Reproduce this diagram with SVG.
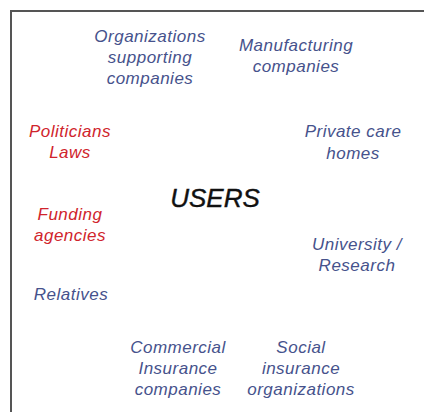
<svg xmlns="http://www.w3.org/2000/svg" width="424" height="412" viewBox="0 0 424 412">
  <style>
    .lbl { font-family: "Liberation Sans", "DejaVu Sans", sans-serif; font-style: italic; font-size: 17px; letter-spacing: 0.5px; text-anchor: middle; }
    .blue { fill: #46528c; }
    .red { fill: #d0242c; }
    .core { font-family: "Liberation Sans", "DejaVu Sans", sans-serif; font-style: italic; font-size: 26px; text-anchor: middle; fill: #111; stroke: #111; stroke-width: 0.4px; }
  </style>
  <rect width="424" height="412" fill="#fff"/>
  <!-- frame: left and top edges -->
  <path d="M11,412 V11 H424" fill="none" stroke="#555" stroke-width="2"/>

  <g id="users"><text class="core" x="215" y="207">USERS</text></g>

  <g id="organizations" class="lbl blue">
    <text x="150" y="42">Organizations</text>
    <text x="150" y="63">supporting</text>
    <text x="150" y="84">companies</text>
  </g>
  <g id="manufacturing" class="lbl blue">
    <text x="296" y="51">Manufacturing</text>
    <text x="296" y="72">companies</text>
  </g>
  <g id="politicians" class="lbl red">
    <text x="70" y="137">Politicians</text>
    <text x="70" y="158">Laws</text>
  </g>
  <g id="private-care" class="lbl blue">
    <text x="353" y="137">Private care</text>
    <text x="353" y="159">homes</text>
  </g>
  <g id="funding" class="lbl red">
    <text x="70" y="220">Funding</text>
    <text x="70" y="241">agencies</text>
  </g>
  <g id="university" class="lbl blue">
    <text x="357" y="250">University /</text>
    <text x="357" y="271">Research</text>
  </g>
  <g id="relatives" class="lbl blue">
    <text x="71" y="300">Relatives</text>
  </g>
  <g id="commercial-insurance" class="lbl blue">
    <text x="178" y="353">Commercial</text>
    <text x="178" y="374">Insurance</text>
    <text x="178" y="395">companies</text>
  </g>
  <g id="social-insurance" class="lbl blue">
    <text x="301" y="353">Social</text>
    <text x="301" y="374">insurance</text>
    <text x="301" y="395">organizations</text>
  </g>
  <g id="connectors"/>
</svg>
